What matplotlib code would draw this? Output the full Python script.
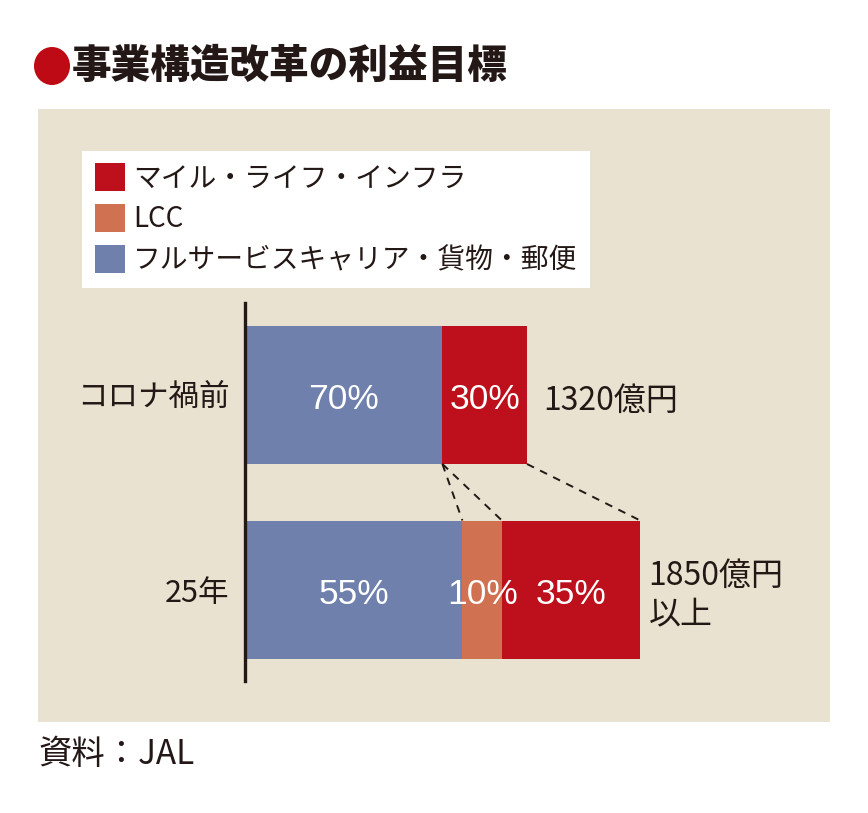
"""事業構造改革の利益目標（JAL）— 横積み上げ棒グラフ"""
import matplotlib
matplotlib.use("Agg")
import matplotlib.pyplot as plt
from matplotlib.patches import Rectangle, Ellipse, Patch

plt.rcParams["font.family"] = ["Noto Sans CJK JP", "DejaVu Sans"]

# ── データ ─────────────────────────────────────────────
categories = ["コロナ禍前", "25年"]
totals = [1320, 1850]                      # 億円
total_labels = ["1320億円", "1850億円\n以上"]
series_names = ["フルサービスキャリア・貨物・郵便", "LCC", "マイル・ライフ・インフラ"]
shares = {                                 # %
    "フルサービスキャリア・貨物・郵便": [70, 55],
    "LCC": [0, 10],
    "マイル・ライフ・インフラ": [30, 35],
}
title = "事業構造改革の利益目標"
source = "資料：JAL"

# ── スタイル ───────────────────────────────────────────
COLORS = {
    "フルサービスキャリア・貨物・郵便": "#6E80AB",
    "LCC": "#D07252",
    "マイル・ライフ・インフラ": "#BE0F1C",
}
BEIGE = "#E9E2D0"
INK = "#231815"
RED_DOT = "#BE0A14"

W, H, DPI = 868, 813, 100


def fx(px):
    return px / W


def fy(py):
    return 1 - py / H


fig = plt.figure(figsize=(W / DPI, H / DPI), dpi=DPI, facecolor="white")

# 背景パネル（軸より下に描く）
fig.patches.append(Rectangle((fx(38), fy(722)), fx(830) - fx(38), fy(109) - fy(722),
                             transform=fig.transFigure, facecolor=BEIGE,
                             edgecolor="none", zorder=-10))

# タイトル
fig.patches.append(Ellipse((fx(52), fy(66)), 36 / W, 38 / H, transform=fig.transFigure,
                           facecolor=RED_DOT, edgecolor="none", zorder=-5))
fig.text(fx(72), fy(66), title, fontsize=28.5, fontweight="heavy", color=INK,
         ha="left", va="center")
fig.text(fx(38), fy(754), source, fontsize=24, color=INK, ha="left", va="center")

# ── 棒グラフ ───────────────────────────────────────────
px_per_unit = 282 / 1320
ax_left, ax_right, ax_top, ax_bot = 245, 830, 303, 681
ax = fig.add_axes([fx(ax_left), fy(ax_bot), fx(ax_right) - fx(ax_left),
                   fy(ax_top) - fy(ax_bot)])
ax.set_zorder(2)
ax.set_facecolor("none")
ax.set_xlim(0, (ax_right - ax_left) / px_per_unit)
unit_px = 194.5
ax.set_ylim(1 + (ax_bot - 589.5) / unit_px, 0 - (395 - ax_top) / unit_px)
bar_h = 138 / unit_px

ypos = list(range(len(categories)))
left = [0.0] * len(categories)
bounds = []
for name in series_names:
    widths = [t * s / 100 for t, s in zip(totals, shares[name])]
    ax.barh(ypos, widths, left=left, height=bar_h,
            color=COLORS[name], edgecolor="none", zorder=2)
    for i, (l, w, s) in enumerate(zip(left, widths, shares[name])):
        if s > 0:
            ax.text(l + w / 2, i + 0.025, f"{s}%", color="white", fontsize=25.5,
                    family=["Liberation Sans", "Noto Sans CJK JP"],
                    ha="center", va="center", zorder=4)
    left = [l + w for l, w in zip(left, widths)]
    bounds.append(list(left))

# 合計ラベル
for i, (t, lab, off) in enumerate(zip(totals, total_labels, [12, 6])):
    ax.annotate(lab, (t, i + 0.03), xytext=(off, 0), textcoords="offset points",
                fontsize=23, color=INK, ha="left", va="center", linespacing=1.3)

# 破線：コロナ禍前の境界 → 25年の境界
y0, y1 = 0 + bar_h / 2, 1 - bar_h / 2
top_blue, top_total = bounds[0][0], bounds[2][0]
for xa, xb in [(top_blue, bounds[0][1]), (top_blue, bounds[1][1]),
               (top_total, bounds[2][1])]:
    ax.plot([xa, xb], [y0, y1], color=INK, lw=1.4, ls=(0, (4, 3.5)), zorder=3)

ax.set_yticks(ypos, categories, fontsize=22, color=INK)
ax.tick_params(axis="y", length=0, pad=11)
ax.set_xticks([])
for side in ["top", "right", "bottom"]:
    ax.spines[side].set_visible(False)
ax.spines["left"].set_linewidth(2.4)
ax.spines["left"].set_color(INK)
ax.spines["left"].set_zorder(5)

# 凡例
handles = [Patch(facecolor=COLORS[n], edgecolor="none") for n in reversed(series_names)]
leg = fig.legend(handles, list(reversed(series_names)), loc="upper left",
                 bbox_to_anchor=(fx(82), fy(151)), borderaxespad=0, fontsize=20,
                 frameon=True, fancybox=False, framealpha=1, edgecolor="none",
                 facecolor="white", handlelength=1.1, handleheight=1.15,
                 handletextpad=0.3, labelspacing=0.38, borderpad=0.45)
leg.set_zorder(3)
for t in leg.get_texts():
    t.set_color(INK)

fig.savefig("out.png", dpi=DPI, facecolor="white")
